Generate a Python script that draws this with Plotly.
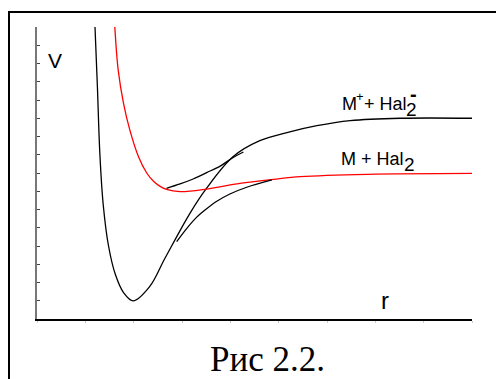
import plotly.graph_objects as go

# Ionic term M+ + Hal2- (black)
ionic_r = [1.20, 1.25, 1.30, 1.37, 1.48, 1.62, 1.79, 1.99, 2.33, 2.65, 3.17, 3.51, 4.06, 4.61, 5.23, 5.79, 6.48, 7.52, 9.0]
ionic_v = [16.0, 12.7, 9.08, 6.26, 4.00, 2.45, 1.45, 0.99, 1.77, 3.34, 5.82, 7.17, 8.90, 9.77, 10.25, 10.59, 10.87, 11.0, 11.0]

# Covalent term M + Hal2 (red)
cov_r = [1.61, 1.68, 1.79, 1.92, 2.10, 2.27, 2.41, 2.54, 2.68, 2.96, 3.51, 4.20, 4.89, 5.45, 6.83, 9.0]
cov_v = [16.0, 13.64, 11.82, 10.36, 8.89, 8.00, 7.55, 7.28, 7.10, 6.98, 7.12, 7.43, 7.65, 7.80, 7.93, 7.98]

# Adiabatic branches near the crossing
upper_r = [2.68, 2.96, 3.23, 3.51, 3.79, 4.06, 4.27]
upper_v = [7.16, 7.40, 7.67, 8.02, 8.38, 8.85, 9.15]
lower_r = [2.89, 3.10, 3.30, 3.51, 3.72, 3.99, 4.34, 4.86]
lower_v = [4.24, 4.97, 5.57, 6.04, 6.45, 6.85, 7.22, 7.62]

W, H = 504, 379
OFF = 8  # page body margin
L, T = 37 - OFF, 27 - OFF
PW, PH = 435, 292
R, B = W - L - PW, H - T - PH

fig = go.Figure()
common = dict(mode="lines", line_shape="spline", hoverinfo="skip", showlegend=False)
fig.add_trace(go.Scatter(x=ionic_r, y=ionic_v, line=dict(color="black", width=1.3, smoothing=1.0), **common))
fig.add_trace(go.Scatter(x=cov_r, y=cov_v, line=dict(color="#ff0000", width=1.3, smoothing=1.0), **common))
fig.add_trace(go.Scatter(x=upper_r, y=upper_v, line=dict(color="black", width=1.3, smoothing=1.0), **common))
fig.add_trace(go.Scatter(x=lower_r, y=lower_v, line=dict(color="black", width=1.3, smoothing=1.0), **common))

sans = "Liberation Sans, Arial, sans-serif"
serif = "Liberation Serif, Times New Roman, serif"

def txt(x, y, s, size, xanchor="left", family=sans):
    fig.add_annotation(x=x, y=y, xref="x", yref="y", text=s, showarrow=False,
                       xanchor=xanchor, yanchor="middle", borderpad=0,
                       font=dict(family=family, size=size, color="black"))

txt(0.372, 14.15, "V", 21, xanchor="center")
txt(6.27, 8.78, "M + Hal", 18)
txt(7.57, 8.47, "2", 19)
txt(6.29, 11.78, "M", 18)
txt(6.58, 12.19, "+", 13)
txt(6.745, 11.78, "+ Hal", 18)
txt(7.61, 11.48, "2", 19)
txt(7.78, 12.35, "<b>-</b>", 20, xanchor="center")
txt(7.21, 1.0, "r", 24, xanchor="center")

# caption (paper coordinates)
fig.add_annotation(x=(267.5 - OFF - L) / PW, y=((T + PH) - (359 - OFF)) / PH,
                   xref="paper", yref="paper", text="Рис 2.2.", showarrow=False,
                   xanchor="center", yanchor="middle", borderpad=0,
                   font=dict(family=serif, size=35, color="black"))

# outer frame
fig.add_shape(type="rect", xref="paper", yref="paper",
              x0=(1 - L) / PW, x1=(W + 20 - L) / PW,
              y0=((T + PH) - (H + 30)) / PH, y1=((T + PH) - (12 - OFF)) / PH,
              line=dict(color="black", width=2), fillcolor="rgba(0,0,0,0)")

fig.update_xaxes(range=[0, 9], showline=True, linecolor="black", linewidth=1.5,
                 ticks="outside", ticklen=2, tickcolor="#cccccc", dtick=1,
                 showticklabels=False, showgrid=False, zeroline=False)
fig.update_yaxes(range=[0, 16], showline=True, linecolor="#777777", linewidth=2,
                 ticks="inside", ticklen=3, tickcolor="#444444", dtick=1,
                 showticklabels=False, showgrid=False, zeroline=False)

fig.update_layout(width=W, height=H, margin=dict(l=L, r=R, t=T, b=B, autoexpand=False),
                  paper_bgcolor="white", plot_bgcolor="white")

fig.write_html("out.html")
